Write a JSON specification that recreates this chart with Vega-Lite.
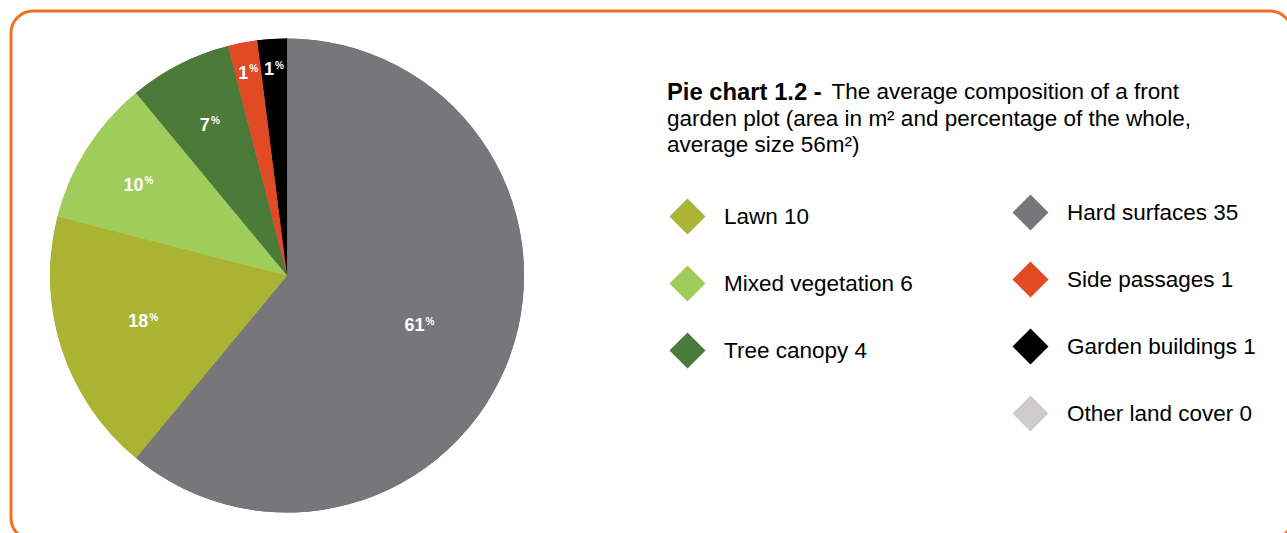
{
  "$schema": "https://vega.github.io/schema/vega-lite/v6.json",
  "width": 1281,
  "height": 529,
  "autosize": {"type": "none"},
  "padding": {"left": 11, "top": 11, "right": -5, "bottom": -7},
  "background": "white",
  "config": {
    "view": {"stroke": "#F07022", "strokeWidth": 3, "cornerRadius": 22},
    "font": "Liberation Sans",
    "legend": {
      "symbolType": "diamond",
      "symbolSize": 1300,
      "symbolStrokeWidth": 0,
      "labelFontSize": 22.5,
      "labelFont": "Liberation Sans",
      "labelColor": "black",
      "labelOffset": 18,
      "rowPadding": 30,
      "padding": 0,
      "labelLimit": 400
    }
  },
  "title": {
    "text": "Pie chart 1.2 -",
    "subtitle": [
      "\u200b\u00a0\u00a0\u00a0\u00a0\u00a0\u00a0\u00a0\u00a0\u00a0\u00a0\u00a0\u00a0\u00a0\u00a0\u00a0\u00a0\u00a0\u00a0\u00a0\u00a0\u00a0\u00a0\u00a0\u00a0\u00a0\u00a0\u200aThe average composition of a front",
      "garden plot (area in m² and percentage of the whole,",
      "average size 56m²)"
    ],
    "orient": "top",
    "anchor": "start",
    "frame": "group",
    "font": "Liberation Sans",
    "fontSize": 23.8,
    "fontWeight": "bold",
    "color": "black",
    "subtitleFont": "Liberation Sans",
    "subtitleFontSize": 22.5,
    "subtitleFontWeight": "normal",
    "subtitleColor": "black",
    "subtitleLineHeight": 26.3,
    "subtitlePadding": -23,
    "offset": 0,
    "dx": 656,
    "dy": 145.5
  },
  "data": {
    "values": [
      {"category": "Hard surfaces", "key": "Hard surfaces 35", "area": 35, "share": 61, "label": "61", "rank": 1},
      {"category": "Lawn", "key": "Lawn 10", "area": 10, "share": 18, "label": "18", "rank": 2},
      {"category": "Mixed vegetation", "key": "Mixed vegetation 6", "area": 6, "share": 10, "label": "10", "rank": 3},
      {"category": "Tree canopy", "key": "Tree canopy 4", "area": 4, "share": 7, "label": "7", "rank": 4},
      {"category": "Side passages", "key": "Side passages 1", "area": 1, "share": 2, "label": "1", "rank": 5},
      {"category": "Garden buildings", "key": "Garden buildings 1", "area": 1, "share": 2, "label": "1", "rank": 6},
      {"category": "Other land cover", "key": "Other land cover 0", "area": 0, "share": 0, "label": "", "rank": 7}
    ]
  },
  "layer": [
    {
      "mark": {"type": "arc", "outerRadius": 237},
      "encoding": {
        "x": {"datum": 0.2155, "type": "quantitative", "scale": {"domain": [0, 1], "nice": false}, "axis": null},
        "theta": {"field": "share", "type": "quantitative", "stack": true},
        "order": {"field": "rank"},
        "color": {
          "field": "key",
          "type": "nominal",
          "scale": {
            "domain": ["Lawn 10", "Mixed vegetation 6", "Tree canopy 4", "Hard surfaces 35", "Side passages 1", "Garden buildings 1", "Other land cover 0"],
            "range": ["#AAB432", "#A0CC5C", "#4B7A39", "#77777B", "#E04B26", "#000000", "#CDCBCC"]
          },
          "legend": {"title": null, "orient": "none", "legendX": 658, "legendY": 187, "values": ["Lawn 10", "Mixed vegetation 6", "Tree canopy 4"]}
        }
      }
    },
    {
      "mark": {"type": "arc", "outerRadius": 237},
      "encoding": {
        "x": {"datum": 0.2155, "type": "quantitative"},
        "theta": {"field": "share", "type": "quantitative", "stack": true},
        "order": {"field": "rank"},
        "color": {
          "field": "key",
          "type": "nominal",
          "scale": {
            "domain": ["Lawn 10", "Mixed vegetation 6", "Tree canopy 4", "Hard surfaces 35", "Side passages 1", "Garden buildings 1", "Other land cover 0"],
            "range": ["#AAB432", "#A0CC5C", "#4B7A39", "#77777B", "#E04B26", "#000000", "#CDCBCC"]
          },
          "legend": {"title": null, "orient": "none", "legendX": 1001, "legendY": 183, "values": ["Hard surfaces 35", "Side passages 1", "Garden buildings 1", "Other land cover 0"]}
        }
      }
    },
    {
      "transform": [{"filter": "datum.share > 0"}],
      "mark": {"type": "text", "align": "right", "baseline": "alphabetic", "dy": 6.5, "fontSize": 18, "fontWeight": "bold", "color": "white", "radius": {"expr": "datum.share < 5 ? 207 : datum.share < 15 ? 170 : 146"}},
      "encoding": {
        "x": {"datum": 0.2155, "type": "quantitative"},
        "theta": {"field": "share", "type": "quantitative", "stack": true},
        "order": {"field": "rank"},
        "text": {"field": "label"}
      }
    },
    {
      "transform": [{"filter": "datum.share > 0"}],
      "mark": {"type": "text", "align": "left", "baseline": "alphabetic", "dx": 1, "fontSize": 10, "fontWeight": "bold", "color": "white", "radius": {"expr": "datum.share < 5 ? 207 : datum.share < 15 ? 170 : 146"}},
      "encoding": {
        "x": {"datum": 0.2155, "type": "quantitative"},
        "theta": {"field": "share", "type": "quantitative", "stack": true},
        "order": {"field": "rank"},
        "text": {"value": "%"}
      }
    }
  ],
  "resolve": {"scale": {"color": "independent"}}
}
